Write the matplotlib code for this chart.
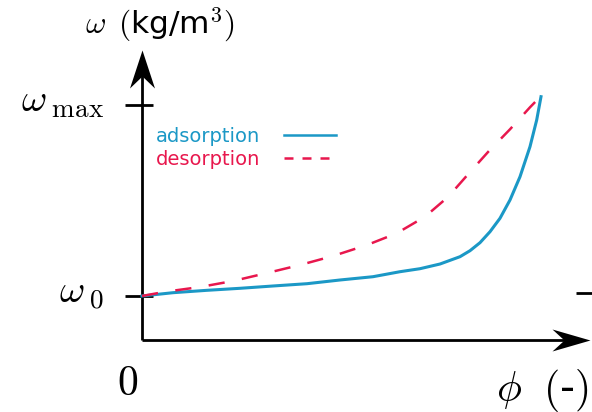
import numpy as np
import matplotlib
matplotlib.use("Agg")
import matplotlib.pyplot as plt
from matplotlib.lines import Line2D
from matplotlib.path import Path

plt.rcParams['mathtext.fontset'] = 'cm'
plt.rcParams['font.family'] = ['DejaVu Sans']

# ---------------------------
# DATA (normalised: omega_0 = 0, omega_max = 1)
# ---------------------------

phi_ads = [0.0, 0.0777, 0.1629, 0.2456, 0.3283, 0.4135, 0.4962, 0.5789, 0.6466,
           0.6967, 0.7469, 0.7970, 0.8221, 0.8471, 0.8722, 0.8972, 0.9223,
           0.9474, 0.9724, 0.9892, 1.0]
omega_ads = [0.0, 0.0173, 0.0298, 0.0403, 0.0524, 0.0644, 0.0838, 0.1010, 0.1272,
             0.1429, 0.1675, 0.2058, 0.2372, 0.2791, 0.3366, 0.4068, 0.5026,
             0.6246, 0.7817, 0.9215, 1.0435]

phi_des = [0.0, 0.0576, 0.1454, 0.2281, 0.3133, 0.3960, 0.4787, 0.5639, 0.6383,
           0.7093, 0.7677, 0.8178, 0.8679, 0.9223, 0.9724, 1.0]
omega_des = [0.0, 0.0220, 0.0471, 0.0785, 0.1204, 0.1623, 0.2094, 0.2670, 0.3283,
             0.4152, 0.5199, 0.6387, 0.7555, 0.8728, 0.9880, 1.0471]

y_ticks = [0.0, 1.0]
y_ticklabels = [r'$\omega_{\;0}$', r'$\omega_{\;\max}$']

BLUE = '#1b98c6'
RED = '#e8174d'

# ---------------------------
# LAYOUT (pixel -> data mapping)
# ---------------------------

W, H = 592, 412
X0, SX = 142, 399   # phi = 0 at x=142, phi = 1 at x=541
Y0, SY = 296, 191   # omega = 0 at y=296, omega = 1 at y=105

def px(x, y):
    return (x - X0) / SX, (Y0 - y) / SY

fig = plt.figure(figsize=(W / 100, H / 100), dpi=100)
ax = fig.add_axes([0, 0, 1, 1])
ax.set_xlim(px(0, 0)[0], px(W, 0)[0])
ax.set_ylim(px(0, H)[1], px(0, 0)[1])
ax.axis('off')

# axes lines
ox, oy = px(142, 340)
tipx, _ = px(590, 340)
_, tipy = px(142, 50)
ax.plot([ox, tipx - 0.04], [oy, oy], color='black', lw=2, solid_capstyle='butt', zorder=3)
ax.plot([ox, ox], [oy, tipy - 0.08], color='black', lw=2, solid_capstyle='butt', zorder=3)

# stealth arrow heads
head_x = Path([(0, 0), (-38, 11), (-26, 0), (-38, -11), (0, 0)],
              [Path.MOVETO, Path.LINETO, Path.LINETO, Path.LINETO, Path.CLOSEPOLY])
head_y = Path([(0, 0), (12.5, -38), (0, -26), (-12.5, -38), (0, 0)],
              [Path.MOVETO, Path.LINETO, Path.LINETO, Path.LINETO, Path.CLOSEPOLY])
ms = 76 / 1.3889
ax.plot([tipx], [oy], marker=head_x, ms=ms, color='black', mew=0, zorder=4)
ax.plot([ox], [tipy], marker=head_y, ms=ms, color='black', mew=0, zorder=4)

# y ticks
tl, _ = px(125, 0)
tr, _ = px(153, 0)
for t, lab in zip(y_ticks, y_ticklabels):
    ax.plot([tl, tr], [t, t], color='black', lw=2, solid_capstyle='butt', zorder=2)
    ax.text(px(104, 0)[0], t - 0.035, lab, ha='right', va='baseline', fontsize=28)

# stray tick at the right
rx0, ry = px(576, 293)
ax.plot([rx0, px(W + 2, 0)[0]], [ry, ry], color='black', lw=2, solid_capstyle='butt')

# curves
ax.plot(phi_ads, omega_ads, color=BLUE, lw=2.2, zorder=5)
ax.plot(phi_des, omega_des, color=RED, lw=1.8, dashes=(6.5, 7), zorder=5)

# labels
ax.text(*px(128, 383), r'$0$', ha='center', va='center', fontsize=30)
ax.text(*px(588, 390), r'$\phi\ \;($-$)$', ha='right', va='center', fontsize=30)
ax.text(*px(160, 25), r'$\omega\ \,($kg/m$^3)$', ha='center', va='center', fontsize=22.5)

# legend
handles = [Line2D([], [], color=BLUE, lw=1.8),
           Line2D([], [], color=RED, lw=1.8, dashes=(3.6, 3.6))]
ax.legend(handles, ['adsorption', 'desorption'], markerfirst=False, frameon=False,
          labelcolor='linecolor', loc='upper left', fontsize=14,
          bbox_to_anchor=(156 / W, 1 - 127 / H), bbox_transform=fig.transFigure,
          borderpad=0, borderaxespad=0, handlelength=2.7, handletextpad=1.2,
          labelspacing=0.22)

fig.savefig('out.png', dpi=100)
